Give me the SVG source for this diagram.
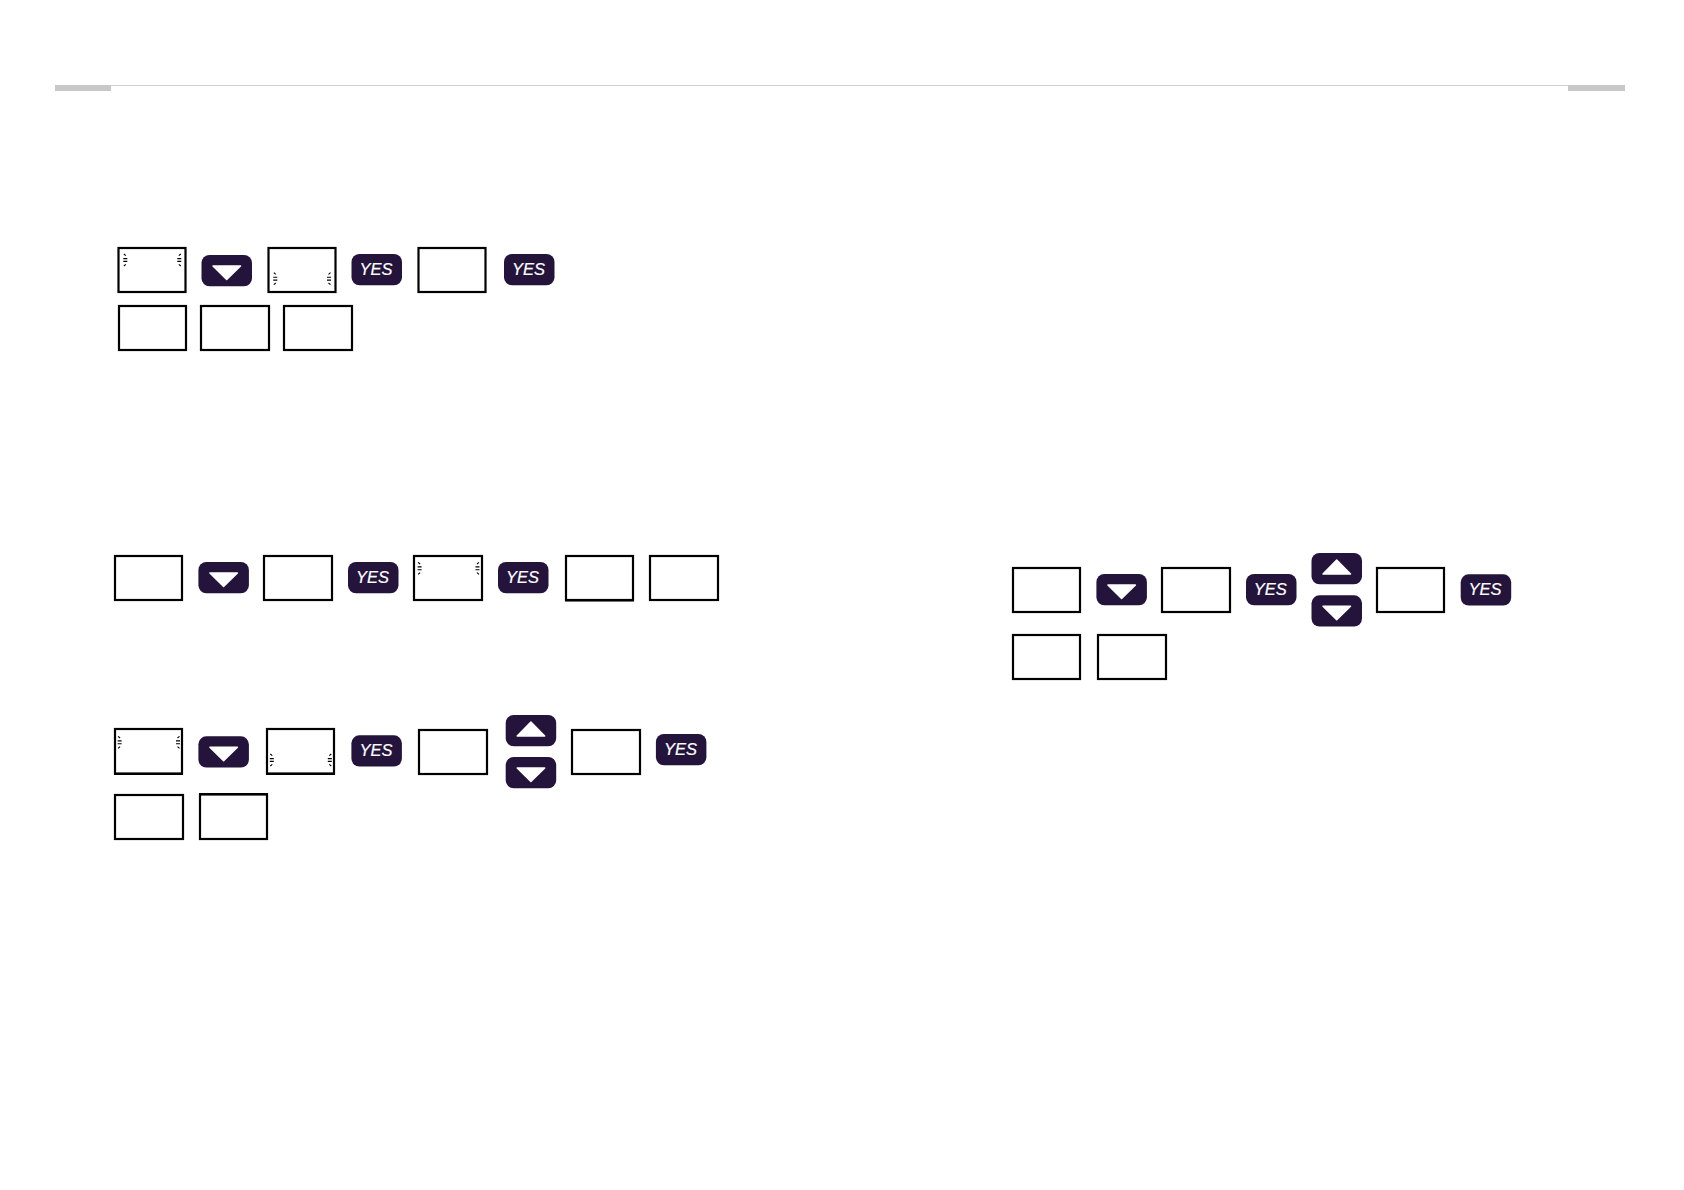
<svg xmlns="http://www.w3.org/2000/svg" width="1684" height="1190" viewBox="0 0 1684 1190">
<style>
.b{fill:#fff;stroke:#000;stroke-width:2.2}
.h{fill:none;stroke:#000;stroke-width:1.6}
.k{fill:#24143b}
.t{fill:#fff;stroke:#fff;stroke-width:1.5;stroke-linejoin:round}
.y{font-family:"Liberation Sans",Arial,sans-serif;font-style:italic;font-size:16.5px;fill:#fff;text-anchor:middle;stroke:#fff;stroke-width:.2}
.m{fill:none;stroke:#000;stroke-width:1.1}
</style>
<defs>
<path id="tick" class="m" d="M-1.500-6 .5-4.300M-2-1.400H2M-2 1.400H2M-1.500 6 .5 4.300"/>
<path id="tickR" class="m" d="M1.500-6-.5-4.300M-2-1.400H2M-2 1.400H2M1.500 6-.5 4.300"/>
<g id="dn"><rect class="k" width="50.5" height="31.3" rx="8"/><path class="t" d="M11.5 11H39L25.2 24.5Z"/></g>
<g id="up"><rect class="k" width="50.5" height="31.3" rx="8"/><path class="t" d="M11.5 21H39L25.2 7Z"/></g>
<rect id="ybg" class="k" width="50.5" height="31.3" rx="8"/>
</defs>
<g id="header">
<rect x="55" y="85" width="1570" height="1" fill="#cfcfcf"/>
<rect x="55" y="85" width="56" height="6" fill="#c8c8c8"/>
<rect x="1568" y="85" width="57" height="6" fill="#c8c8c8"/>
</g>
<g id="connectors"/>

<g id="a-lcd1"><rect class="b" x="118.500" y="248" width="67" height="44"/><use href="#tick" x="125.300" y="260"/><use href="#tickR" x="179.300" y="260"/></g>
<g id="a-down"><use href="#dn" x="201.500" y="255"/></g>
<g id="a-lcd2"><rect class="b" x="268.500" y="248" width="67" height="44"/><use href="#tick" x="275.300" y="278.700"/><use href="#tickR" x="329" y="278.700"/></g>
<g id="a-yes1"><use href="#ybg" x="351.500" y="254"/><text class="y" x="376" y="275">YES</text></g>
<g id="a-lcd3"><rect class="b" x="418.500" y="248" width="67" height="44"/></g>
<g id="a-yes2"><use href="#ybg" x="504" y="254"/><text class="y" x="528.500" y="275">YES</text></g>
<g id="a-lcd4"><rect class="b" x="119" y="306" width="67" height="44"/></g>
<g id="a-lcd5"><rect class="b" x="201" y="306" width="68" height="44"/></g>
<g id="a-lcd6"><rect class="b" x="284" y="306" width="68" height="44"/></g>

<g id="b-lcd1"><rect class="b" x="115" y="556" width="67" height="44"/></g>
<g id="b-down"><use href="#dn" x="198.400" y="562"/></g>
<g id="b-lcd2"><rect class="b" x="264" y="556" width="68" height="44"/></g>
<g id="b-yes1"><use href="#ybg" x="348" y="562"/><text class="y" x="372.500" y="583">YES</text></g>
<g id="b-lcd3"><rect class="b" x="414" y="556" width="68" height="44"/><use href="#tick" x="419.600" y="568.300"/><use href="#tickR" x="477.500" y="568.300"/></g>
<g id="b-yes2"><use href="#ybg" x="498" y="562"/><text class="y" x="522.500" y="583">YES</text></g>
<g id="b-lcd4"><rect class="b" x="566" y="556" width="67" height="44"/><path class="h" d="M565 600.800H634"/></g>
<g id="b-lcd5"><rect class="b" x="650" y="556" width="68" height="44"/></g>

<g id="c-lcd1"><rect class="b" x="115" y="729" width="67" height="44.500"/><path class="h" d="M114 774.300H183"/><use href="#tick" x="119.600" y="742.300"/><use href="#tickR" x="178" y="742.300"/></g>
<g id="c-down"><use href="#dn" x="198.400" y="736.300"/></g>
<g id="c-lcd2"><rect class="b" x="267" y="729" width="67" height="44.500"/><path class="h" d="M266 774.300H335"/><use href="#tick" x="271.800" y="760"/><use href="#tickR" x="329.800" y="760"/></g>
<g id="c-yes1"><use href="#ybg" x="351.400" y="735.300"/><text class="y" x="376" y="756.300">YES</text></g>
<g id="c-lcd3"><rect class="b" x="419" y="730" width="68" height="44"/></g>
<g id="c-up"><use href="#up" x="505.700" y="715"/></g>
<g id="c-down2"><use href="#dn" x="505.700" y="757"/></g>
<g id="c-lcd4"><rect class="b" x="572" y="730" width="68" height="44"/></g>
<g id="c-yes2"><use href="#ybg" x="655.900" y="734"/><text class="y" x="680.500" y="755">YES</text></g>
<g id="c-lcd5"><rect class="b" x="115" y="795" width="68" height="44"/></g>
<g id="c-lcd6"><rect class="b" x="200" y="794.500" width="67" height="44.500"/><path class="h" d="M199 793.800H268"/></g>

<g id="d-lcd1"><rect class="b" x="1013" y="568" width="67" height="44"/></g>
<g id="d-down"><use href="#dn" x="1096.400" y="574"/></g>
<g id="d-lcd2"><rect class="b" x="1162" y="568" width="68" height="44"/></g>
<g id="d-yes1"><use href="#ybg" x="1246" y="574"/><text class="y" x="1270.300" y="595">YES</text></g>
<g id="d-up"><use href="#up" x="1311.500" y="553"/></g>
<g id="d-down2"><use href="#dn" x="1311.500" y="595.300"/></g>
<g id="d-lcd3"><rect class="b" x="1377" y="568" width="67" height="44"/></g>
<g id="d-yes2"><use href="#ybg" x="1460.700" y="574.300"/><text class="y" x="1485" y="595.300">YES</text></g>
<g id="d-lcd4"><rect class="b" x="1013" y="635" width="67" height="44"/></g>
<g id="d-lcd5"><rect class="b" x="1098" y="635" width="68" height="44"/></g>
</svg>
